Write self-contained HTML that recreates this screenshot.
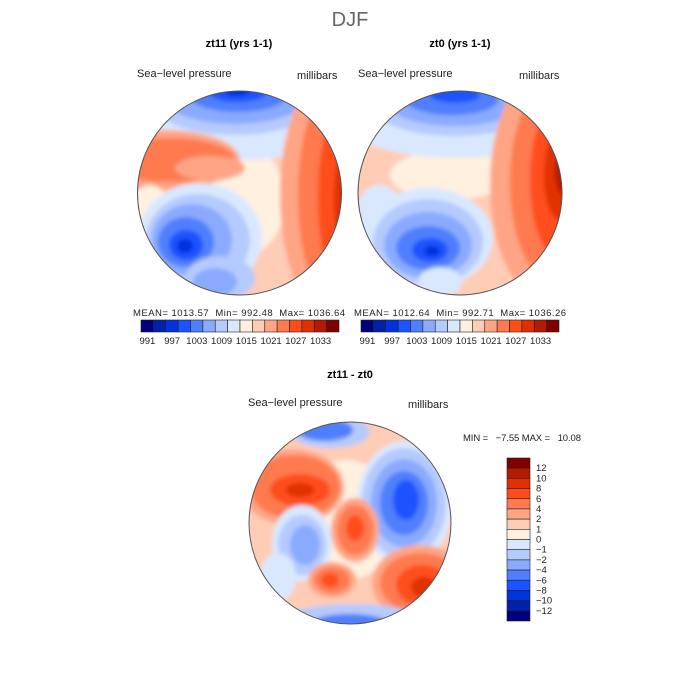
<!DOCTYPE html>
<html><head><meta charset="utf-8"><style>
body{margin:0;background:#fff;}
svg{display:block;font-family:"Liberation Sans",sans-serif;}
text{white-space:pre;}
</style></head><body>
<svg width="700" height="700" viewBox="0 0 700 700">
<defs>
<filter id="bl" x="-20%" y="-20%" width="140%" height="140%"><feGaussianBlur stdDeviation="2"/></filter>
<clipPath id="c1"><circle cx="239.5" cy="193" r="102"/></clipPath>
<clipPath id="c2"><circle cx="460" cy="193" r="102"/></clipPath>
<clipPath id="c3"><circle cx="350" cy="523" r="101"/></clipPath>
</defs>
<text x="350" y="26" font-size="20" fill="#666" text-anchor="middle">DJF</text>
<text x="239" y="47" font-size="11" font-weight="bold" text-anchor="middle">zt11 (yrs 1-1)</text>
<text x="460" y="47" font-size="11" font-weight="bold" text-anchor="middle">zt0 (yrs 1-1)</text>
<g font-size="11" fill="#222">
<text x="137" y="77">Sea−level pressure</text>
<text x="297" y="79">millibars</text>
<text x="358" y="77">Sea−level pressure</text>
<text x="519" y="79">millibars</text>
<text x="248" y="406">Sea−level pressure</text>
<text x="408" y="408">millibars</text>
</g>
<g font-size="9.5" fill="#222">
<text x="133" y="316" textLength="212">MEAN= 1013.57  Min= 992.48  Max= 1036.64</text>
<text x="354" y="316" textLength="212">MEAN= 1012.64  Min= 992.71  Max= 1036.26</text>
<text x="463" y="441" textLength="118">MIN =   −7.55 MAX =   10.08</text>
</g>
<text x="350" y="378" font-size="11" font-weight="bold" text-anchor="middle">zt11 - zt0</text>
<g id="maps"></g>
<g id="bars"></g>
</svg>
<script>
const palette=['#00007f','#0022aa','#0033dd','#1a53ff','#4f7fff','#8aaaff','#b5caff','#d9e8ff','#fff0e0','#ffccb5','#ffa585','#ff7a50','#ff4d1a','#e03000','#b31a00','#800000'];
const absLabels=['991','997','1003','1009','1015','1021','1027','1033'];
const diffLabels=['12','10','8','6','4','2','1','0','−1','−2','−4','−6','−8','−10','−12'];
const NS='http://www.w3.org/2000/svg';
function mk(t,a,p){const e=document.createElementNS(NS,t);for(const k in a)e.setAttribute(k,a[k]);p.appendChild(e);return e;}
// blobs: [cx,cy,rx,ry,colorIndex]
const map1=[[239,193,110,110,9],[245,200,40,55,8],[240,122,115,38,7],[235,105,80,30,6],[235,100,68,24,5],[238,96,48,16,4],[238,93,28,9,3],[237,92,12,4,2],
[165,160,75,30,10],[170,160,65,22,11],[210,168,35,12,10],[320,195,40,110,10],[328,195,30,100,11],[338,198,20,85,12],[344,200,10,50,13],[348,205,6,25,14],
[150,230,25,45,8],[200,238,62,55,7],[198,240,52,46,6],[192,240,40,36,5],[186,242,28,25,4],[186,245,17,15,3],[185,246,8,7,2],[220,278,35,22,6],[215,282,22,14,5]];
const map2=[[460,193,110,110,9],[450,175,60,25,8],[460,122,115,36,7],[455,108,80,28,6],[455,104,66,22,5],[452,100,46,15,4],[455,95,25,8,3],
[540,185,50,110,10],[548,182,38,95,11],[556,180,26,75,12],[560,175,16,45,13],[563,172,8,22,14],
[380,220,25,35,7],[428,238,65,50,7],[428,242,55,43,6],[428,245,44,33,5],[428,248,32,22,4],[430,250,18,12,3],[432,251,8,5,2],[440,282,22,15,7]];
const map3=[[350,523,110,110,9],[345,520,55,60,8],
[292,487,52,38,10],[295,487,45,32,11],[300,490,30,16,12],[300,490,14,7,13],[330,432,40,16,6],[325,430,28,11,4],
[405,503,48,62,7],[404,503,42,55,6],[404,503,33,44,5],[404,503,24,32,4],[406,500,13,20,3],
[302,543,30,38,7],[302,545,24,30,6],[305,545,15,20,5],[278,577,18,24,7],
[355,530,24,32,10],[355,530,18,25,11],[355,528,9,13,12],[332,580,24,18,10],[332,580,18,13,11],[330,580,9,7,12],
[420,583,48,38,10],[420,583,40,30,11],[422,585,26,20,12],[424,587,13,10,13],[352,618,65,14,6],[350,622,35,8,4]];
const mg=document.getElementById('maps');
[[map1,'c1',239.5,193,102],[map2,'c2',460,193,102],[map3,'c3',350,523,101]].forEach((m,i)=>{
 const g=mk('g',{'clip-path':'url(#'+m[1]+')'},mg);
 
 
 const f=mk('g',{filter:'url(#bl)'},g);
 m[0].forEach(b=>mk('ellipse',{cx:b[0],cy:b[1],rx:b[2],ry:b[3],fill:palette[b[4]]},f));
 const ci=mk('circle',{cx:m[2],cy:m[3],r:m[4],fill:'none',stroke:'#555','stroke-width':1},mg);
 
 
});
const bg=document.getElementById('bars');
[141,361].forEach((x0,j)=>{
 const w=198/16;
 palette.forEach((c,i)=>{const r=mk('rect',{x:x0+i*w,y:320,width:w,height:12,fill:c,stroke:'#222','stroke-width':0.6},bg);
 
 });
 absLabels.forEach((l,k)=>{const t=mk('text',{x:x0+w*(2*k+1)-6,y:344,'font-size':9.5,fill:'#222','text-anchor':'middle'},bg);t.textContent=l;
 
 });
});
const h=163/16;
palette.slice().reverse().forEach((c,i)=>{const r=mk('rect',{x:507,y:458+i*h,width:23,height:h,fill:c,stroke:'#222','stroke-width':0.6},bg);
 
 });
diffLabels.forEach((l,k)=>{const t=mk('text',{x:536,y:458+(k+1)*h+3,'font-size':9.5,fill:'#222'},bg);t.textContent=l;
 
 });
</script>
</body></html>
